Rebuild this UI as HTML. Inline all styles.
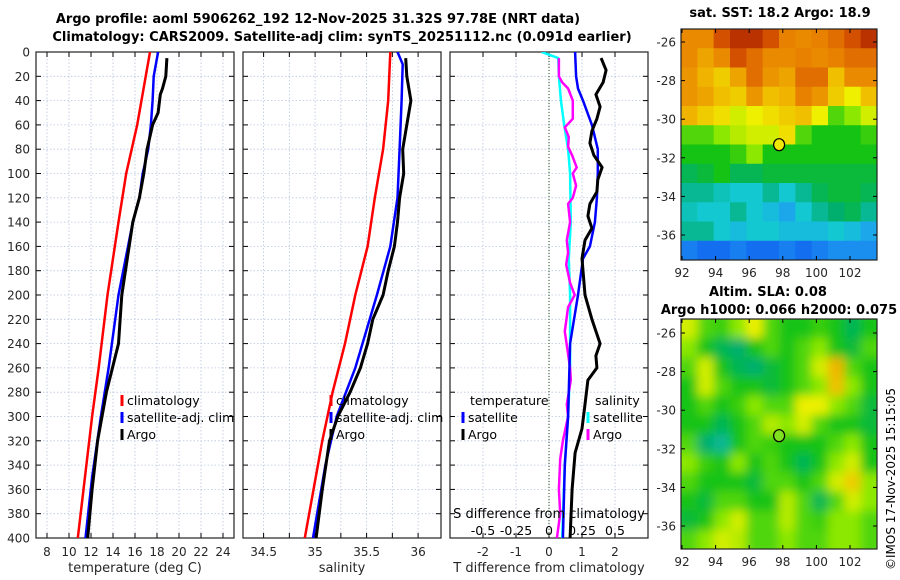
<!DOCTYPE html>
<html><head><meta charset="utf-8"><style>
html,body{margin:0;padding:0;background:#fff;}
svg{display:block;font-family:"DejaVu Sans","Liberation Sans",sans-serif;}
</style></head><body>
<svg id="fig" width="900" height="580" viewBox="0 0 900 580">
<defs>
<clipPath id="c1"><rect x="36" y="52" width="198" height="486"/></clipPath>
<clipPath id="c2"><rect x="243" y="52" width="198" height="486"/></clipPath>
<clipPath id="c3"><rect x="450" y="52" width="198" height="486"/></clipPath>
<clipPath id="cm1"><rect x="681" y="29" width="196" height="231"/></clipPath>
<clipPath id="cm2"><rect x="681" y="319" width="196" height="230"/></clipPath>
<filter id="blur" x="-10%" y="-10%" width="120%" height="120%"><feGaussianBlur stdDeviation="5"/></filter>
</defs>
<text x="318" y="23" font-size="13" font-weight="bold" text-anchor="middle">Argo profile: aoml 5906262_192 12-Nov-2025 31.32S 97.78E (NRT data)</text>
<text x="342" y="41" font-size="13" font-weight="bold" text-anchor="middle">Climatology: CARS2009. Satellite-adj clim: synTS_20251112.nc (0.091d earlier)</text>
<text x="780" y="17" font-size="13" font-weight="bold" text-anchor="middle">sat. SST: 18.2 Argo: 18.9</text>
<text x="768" y="296" font-size="13" font-weight="bold" text-anchor="middle">Altim. SLA: 0.08</text>
<text x="779" y="314" font-size="13" font-weight="bold" text-anchor="middle">Argo h1000: 0.066 h2000: 0.075</text>
<text transform="translate(895,570) rotate(-90)" font-size="12">©IMOS 17-Nov-2025 15:15:05</text>
<g id="layer"></g>
</svg>
<script>
// ---------- Data ----------
const depthTicks = [0,20,40,60,80,100,120,140,160,180,200,220,240,260,280,300,320,340,360,380,400];
const tempTicks = [8,10,12,14,16,18,20,22,24];
const salTicks = [34.5,35,35.5,36];
const salGrid = [34.5,34.75,35,35.25,35.5,35.75,36];
const dTTicks = [-2,-1,0,1,2];
const dSTicks = [-0.5,-0.25,0,0.25,0.5];
const dSLabels = ["-0.5","-0.25","0","0.25","0.5"];

const tClimP = [0,60,80,100,140,200,260,300,400];
const tClimV = [17.36,16.2,15.7,15.2,14.5,13.5,12.7,12.1,10.8];
const tSatP = [0,20,40,60,80,100,120,140,200,260,300,350,400];
const tSatV = [18.1,17.7,17.6,17.45,17.2,16.7,16.4,15.8,14.5,13.6,12.9,12.1,11.5];
const tArgoP = [5,20,30,35,50,60,80,100,120,140,200,240,280,320,360,400];
const tArgoV = [18.9,18.8,18.5,18.3,18.1,17.6,17.1,16.8,16.4,15.8,14.8,14.5,13.4,12.6,12.1,11.7];

const sClimP = [0,40,80,120,160,200,240,280,320,400];
const sClimV = [35.73,35.71,35.66,35.58,35.51,35.39,35.29,35.17,35.07,34.90];
const sSatP = [0,10,40,80,120,160,200,240,260,300,340,400];
const sSatV = [35.80,35.85,35.84,35.82,35.80,35.73,35.60,35.46,35.39,35.21,35.10,34.98];
const sArgoP = [5,20,40,60,80,100,120,140,160,180,200,220,240,260,280,300,320,360,400];
const sArgoV = [35.88,35.89,35.93,35.89,35.85,35.86,35.82,35.80,35.77,35.71,35.66,35.56,35.51,35.44,35.34,35.22,35.14,35.07,35.01];

const dTSatP = [0,20,30,40,60,80,100,120,140,160,170,200,240,300,340,400];
const dTSatV = [0.79,0.82,0.88,1.03,1.30,1.48,1.48,1.45,1.39,1.24,1.03,0.88,0.64,0.58,0.48,0.42];
const dTArgoP = [5,15,25,35,45,55,65,75,85,95,105,115,125,135,145,155,170,180,200,220,240,250,260,270,290,310,330,360,400];
const dTArgoV = [1.58,1.73,1.64,1.42,1.55,1.45,1.30,1.24,1.36,1.61,1.48,1.45,1.24,1.18,1.30,1.09,1.00,1.03,1.09,1.30,1.55,1.42,1.45,1.18,1.09,1.00,0.79,0.70,0.64];
const dSSatP = [0,5,20,40,60,80,100,140,170,200,260,300,340,400];
const dSSatV = [-0.055,0.07,0.075,0.09,0.115,0.145,0.16,0.165,0.15,0.16,0.16,0.145,0.12,0.10];
const dSArgoP = [5,20,25,30,40,55,62,70,78,85,95,100,110,120,125,140,155,165,175,190,200,210,230,260,270,290,300,320,335,360,380,400];
const dSArgoV = [0.075,0.075,0.10,0.145,0.18,0.18,0.12,0.15,0.145,0.175,0.21,0.18,0.205,0.18,0.145,0.16,0.135,0.145,0.13,0.16,0.195,0.145,0.12,0.16,0.165,0.135,0.145,0.105,0.085,0.075,0.085,0.06];

const lonTicks = [92,94,96,98,100,102];
const latTicks = [-26,-28,-30,-32,-34,-36];
const argoLon = 97.78, argoLat = -31.32;
const sstGrid = [
[0.8,0.8,0.9,0.95,0.95,0.9,0.82,0.8,0.82,0.85,0.9,0.95],
[0.8,0.75,0.8,0.9,0.85,0.8,0.8,0.82,0.8,0.82,0.85,0.85],
[0.78,0.72,0.68,0.75,0.85,0.78,0.75,0.85,0.85,0.7,0.8,0.8],
[0.78,0.75,0.7,0.68,0.78,0.7,0.72,0.82,0.78,0.68,0.62,0.7],
[0.72,0.68,0.65,0.6,0.62,0.65,0.68,0.7,0.62,0.5,0.55,0.6],
[0.5,0.5,0.55,0.58,0.6,0.6,0.65,0.5,0.45,0.45,0.45,0.48],
[0.45,0.45,0.45,0.48,0.55,0.45,0.45,0.45,0.45,0.45,0.45,0.45],
[0.4,0.42,0.45,0.4,0.4,0.42,0.42,0.42,0.42,0.42,0.42,0.42],
[0.35,0.35,0.32,0.3,0.3,0.35,0.3,0.35,0.4,0.42,0.42,0.4],
[0.32,0.3,0.3,0.35,0.3,0.28,0.25,0.3,0.35,0.38,0.4,0.35],
[0.35,0.35,0.3,0.28,0.3,0.3,0.28,0.28,0.28,0.3,0.28,0.25],
[0.2,0.18,0.18,0.2,0.18,0.18,0.2,0.18,0.2,0.22,0.22,0.22]];
const slaGrid = [
[0.6,0.5,0.48,0.55,0.62,0.5,0.45,0.45,0.48,0.45,0.4,0.45],
[0.55,0.45,0.4,0.38,0.45,0.5,0.45,0.5,0.55,0.45,0.42,0.5],
[0.5,0.6,0.45,0.4,0.38,0.42,0.45,0.5,0.6,0.72,0.5,0.45],
[0.45,0.6,0.5,0.45,0.45,0.42,0.45,0.5,0.55,0.7,0.55,0.45],
[0.45,0.5,0.45,0.48,0.55,0.5,0.5,0.62,0.62,0.55,0.5,0.42],
[0.45,0.45,0.4,0.45,0.5,0.58,0.55,0.6,0.5,0.45,0.45,0.42],
[0.5,0.38,0.35,0.45,0.5,0.48,0.45,0.45,0.45,0.5,0.55,0.45],
[0.55,0.48,0.45,0.55,0.45,0.5,0.45,0.4,0.45,0.55,0.6,0.45],
[0.5,0.45,0.45,0.45,0.42,0.5,0.5,0.45,0.5,0.6,0.68,0.55],
[0.45,0.42,0.5,0.5,0.45,0.45,0.58,0.5,0.4,0.5,0.6,0.55],
[0.42,0.45,0.55,0.6,0.5,0.5,0.58,0.5,0.48,0.55,0.55,0.5],
[0.5,0.55,0.6,0.58,0.5,0.5,0.55,0.5,0.5,0.55,0.55,0.5]];

// ---------- helpers ----------
const NS = "http://www.w3.org/2000/svg";
const layer = document.getElementById('layer');
function mk(tag, attrs, parent){const e=document.createElementNS(NS,tag);for(const k in attrs)e.setAttribute(k,attrs[k]);(parent||layer).appendChild(e);return e;}
const Y0=52, Y1=538;
const yP = p => Y0 + p*(Y1-Y0)/400;
const xT = v => 36 + (v-7)*198/18;
const xS = v => 243 + (v-34.3)*103;
const xDT = v => 450 + (v+3)*198/6;
const xDS = v => 450 + (v+0.75)*132;

function panel(x0, name, gridXs, clip){
  const g = mk('g',{});
  
  
  mk('rect',{x:x0,y:Y0,width:198,height:486,fill:'#fff'},g);
  gridXs.forEach(x=>mk('line',{x1:x,x2:x,y1:Y0,y2:Y1,stroke:'#b8c4e0','stroke-width':0.8,'stroke-dasharray':'1.5,2'},g));
  depthTicks.forEach(p=>{ if(p>0&&p<400) mk('line',{x1:x0,x2:x0+198,y1:yP(p),y2:yP(p),stroke:'#b8c4e0','stroke-width':0.8,'stroke-dasharray':'1.5,2'},g);});
  depthTicks.forEach(p=>{mk('line',{x1:x0,x2:x0+5,y1:yP(p),y2:yP(p),stroke:'#000'},g);mk('line',{x1:x0+193,x2:x0+198,y1:yP(p),y2:yP(p),stroke:'#000'},g);});
  gridXs.forEach(x=>{mk('line',{x1:x,x2:x,y1:Y0,y2:Y0+5,stroke:'#000'},g);mk('line',{x1:x,x2:x,y1:Y1-5,y2:Y1,stroke:'#000'},g);});
  return g;
}
function frame(x0,g){mk('rect',{x:x0,y:Y0,width:198,height:486,fill:'none',stroke:'#222','stroke-width':1.2},g);}
function line(P,V,xf,color,w,name,clip){
  const d = P.map((p,i)=>(i?'L':'M')+xf(V[i]).toFixed(1)+','+yP(p).toFixed(1)).join('');
  const e = mk('path',{d:d,fill:'none',stroke:color,'stroke-width':w,'stroke-linejoin':'round','clip-path':'url(#'+clip+')'});
  
  
  return e;
}
function txt(x,y,s,opts,name){
  const e = mk('text',Object.assign({x:x,y:y,'font-size':12,fill:'#262626'},opts||{}));
  e.textContent = s;
  
  
  return e;
}
function legendEntry(x,y,color,label,name){
  const g = mk('g',{});
  
  
  mk('line',{x1:x,x2:x,y1:y-10,y2:y+1,stroke:color,'stroke-width':3},g);
  const t = mk('text',{x:x+5,y:y,'font-size':12.5,fill:'#000'},g);
  t.textContent = label;
}

// ---------- Panel 1: temperature ----------
const g1 = panel(36,'temperature-panel',tempTicks.map(xT),'c1');
line(tClimP,tClimV,xT,'#ff0000',2.5,'temp-climatology-line','c1');
line(tSatP,tSatV,xT,'#0000ff',2.5,'temp-satellite-line','c1');
line(tArgoP,tArgoV,xT,'#000',3,'temp-argo-line','c1');
frame(36,g1);
depthTicks.forEach(p=>txt(30,yP(p)+4.5,String(p),{'text-anchor':'end'},'depth-tick-label'));
tempTicks.forEach(v=>txt(xT(v),556,String(v),{'text-anchor':'middle'},'temp-tick-label'));
txt(135,572,'temperature (deg C)',{'text-anchor':'middle','font-size':13},'temp-axis-title');
legendEntry(122,405,'#ff0000','climatology','legend-climatology');
legendEntry(122,422,'#0000ff','satellite-adj. clim','legend-satellite-adj');
legendEntry(122,439,'#000','Argo','legend-argo');

// ---------- Panel 2: salinity ----------
const g2 = panel(243,'salinity-panel',salGrid.map(xS),'c2');
line(sClimP,sClimV,xS,'#ff0000',2.5,'sal-climatology-line','c2');
line(sSatP,sSatV,xS,'#0000ff',2.5,'sal-satellite-line','c2');
line(sArgoP,sArgoV,xS,'#000',3,'sal-argo-line','c2');
frame(243,g2);
salTicks.forEach(v=>txt(xS(v),556,String(v),{'text-anchor':'middle'},'sal-tick-label'));
txt(342,572,'salinity',{'text-anchor':'middle','font-size':13},'sal-axis-title');
legendEntry(331,405,'#ff0000','climatology','legend-sal-climatology');
legendEntry(331,422,'#0000ff','satellite-adj. clim','legend-sal-satellite-adj');
legendEntry(331,439,'#000','Argo','legend-sal-argo');

// ---------- Panel 3: differences ----------
const g3 = panel(450,'difference-panel',dTTicks.map(xDT),'c3');
const zl = mk('line',{x1:xDT(0),x2:xDT(0),y1:Y0,y2:Y1,stroke:'#4a6a3a','stroke-width':1.2,'stroke-dasharray':'1,2'});


line(dSSatP,dSSatV,xDS,'#00ffff',2.5,'sdiff-satellite-line','c3');
line(dSArgoP,dSArgoV,xDS,'#ff00ff',2.5,'sdiff-argo-line','c3');
line(dTSatP,dTSatV,xDT,'#0000ff',2.5,'tdiff-satellite-line','c3');
line(dTArgoP,dTArgoV,xDT,'#000',3,'tdiff-argo-line','c3');
frame(450,g3);
dTTicks.forEach(v=>txt(xDT(v),556,String(v),{'text-anchor':'middle'},'tdiff-tick-label'));
txt(549,572,'T difference from climatology',{'text-anchor':'middle','font-size':13},'tdiff-axis-title');
dSTicks.forEach((v,i)=>txt(xDS(v),535,dSLabels[i],{'text-anchor':'middle','font-size':12.5,fill:'#000'},'sdiff-tick-label'));
txt(549,518,'S difference from climatology',{'text-anchor':'middle','font-size':13,fill:'#000'},'sdiff-axis-title');
txt(470,405,'temperature',{'font-size':12.5,fill:'#000'},'legend-temperature-heading');
legendEntry(463,422,'#0000ff','satellite','legend-tdiff-satellite');
legendEntry(463,439,'#000','Argo','legend-tdiff-argo');
txt(595,405,'salinity',{'font-size':12.5,fill:'#000'},'legend-salinity-heading');
legendEntry(588,422,'#00ffff','satellite','legend-sdiff-satellite');
legendEntry(588,439,'#ff00ff','Argo','legend-sdiff-argo');

// ---------- Maps ----------
const stops=[[0.1,[10,60,220]],[0.18,[20,110,240]],[0.24,[30,160,240]],[0.3,[20,200,210]],[0.38,[0,175,110]],[0.45,[20,195,20]],[0.55,[140,232,0]],[0.62,[238,240,0]],[0.72,[240,180,0]],[0.82,[232,128,0]],[0.9,[210,80,0]],[1.0,[160,20,0]]];
function cmap(v){
  if(v<=stops[0][0]) return 'rgb('+stops[0][1]+')';
  for(let i=1;i<stops.length;i++){ if(v<=stops[i][0]){const a=stops[i-1],b=stops[i];const t=(v-a[0])/(b[0]-a[0]);return 'rgb('+a[1].map((c,k)=>Math.round(c+(b[1][k]-c)*t)).join(',')+')';}}
  return 'rgb('+stops[stops.length-1][1]+')';
}
function mapPanel(grid, top, bottom, latRef, clip, name, dotColor, blur){
  const xL=681, xR=877;
  const lonX = lon => 682 + (lon-92)*16.8;
  const latY = lat => latRef + (-26-lat)*19.3;
  const g = mk('g',{'clip-path':'url(#'+clip+')'});
  
  
  const inner = mk('g', blur?{filter:'url(#blur)'}:{}, g);
  const rows=grid.length, cols=grid[0].length;
  const cw=(xR-xL)/cols, ch=(bottom-top)/rows;
  const pad = blur?8:0;
  grid.forEach((row,r)=>row.forEach((v,c)=>{
    const e = mk('rect',{x:xL+c*cw-(c==0?pad:0),y:top+r*ch-(r==0?pad:0),width:cw+0.6+(c==0||c==cols-1?pad:0),height:ch+0.6+(r==0||r==rows-1?pad:0),fill:cmap(v)},inner);
    
    
  }));
  mk('rect',{x:xL,y:top,width:xR-xL,height:bottom-top,fill:'none',stroke:'#222','stroke-width':1.2});
  lonTicks.forEach(l=>{const x=lonX(l);mk('line',{x1:x,x2:x,y1:top,y2:top+4,stroke:'#000'});mk('line',{x1:x,x2:x,y1:bottom-4,y2:bottom,stroke:'#000'});txt(x,bottom+17,String(l),{'text-anchor':'middle'},'lon-tick-label');});
  latTicks.forEach(l=>{const y=latY(l);mk('line',{x1:xL,x2:xL+4,y1:y,y2:y,stroke:'#000'});mk('line',{x1:xR-4,x2:xR,y1:y,y2:y,stroke:'#000'});txt(676,y+4.5,String(l),{'text-anchor':'end'},'lat-tick-label');});
  const dot = mk('ellipse',{cx:lonX(argoLon),cy:latY(argoLat),rx:5.5,ry:6,fill:dotColor,stroke:'#000','stroke-width':1.2});
  
  
}
mapPanel(sstGrid,29,260,42,'cm1','sst-map','#f0e800',false);
mapPanel(slaGrid,319,549,333,'cm2','sla-map','#80e020',true);
</script>
</body></html>
